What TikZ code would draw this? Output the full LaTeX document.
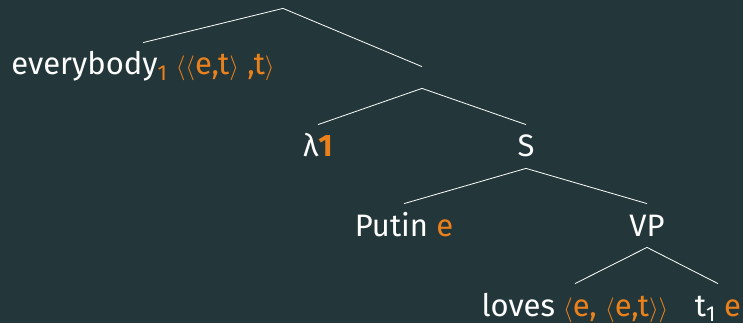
\documentclass[tikz,border=0pt]{standalone}
\usepackage{fontspec}
\setmainfont{Fira Sans}
\usepackage{tikz}
\definecolor{bgteal}{HTML}{23373B}
\definecolor{typeorange}{HTML}{EB811B}
\newcommand{\ty}[1]{\textcolor{typeorange}{#1}}

\begin{document}
\begin{tikzpicture}[x = 1pt, y = -1pt, line width = 0.8pt, white,
  leaf/.style = {anchor = base, font = \fontsize{31}{35}\selectfont, text = white,
    inner xsep = 0pt, inner ysep = 9pt, text height = 23pt, text depth = 2pt},
  gap/.style = {inner sep = 0pt, minimum height = 21pt}]
\fill[bgteal] (0,0) rectangle (743,323);
\useasboundingbox (0,0) rectangle (743,323);
\draw (283,-2.5) node[gap](a0){}
    (422,77.5) node[gap](a1){}
    (143,75) node[leaf](a2){everybody\ty{\textsubscript{1} $\langle\langle$e,t$\rangle$ ,t$\rangle$}}
    (318,157) node[leaf](a3){λ\ty{\textbf{1}}}
    (526,157) node[leaf](a4){S}
    (404,236) node[leaf](a5){Putin \ty{e}}
    (647,236) node[leaf](a6){VP}
    (575,316) node[leaf](a7){loves \ty{$\langle$e, $\langle$e,t$\rangle\rangle$}}
    (718,316) node[leaf](a8){t\textsubscript{1} \ty{e}};
    \draw [-] (a0.south) -- (a2.north);
    \draw [-] (a0.south) -- (a1.north);
    \draw [-] (a1.south) -- (a3.north);
    \draw [-] (a1.south) -- (a4.north);
    \draw [-] (a4.south) -- (a5.north);
    \draw [-] (a4.south) -- (a6.north);
    \draw [-] (a6.south) -- (a7.north);
    \draw [-] (a6.south) -- (a8.north);
\end{tikzpicture}
\end{document}
